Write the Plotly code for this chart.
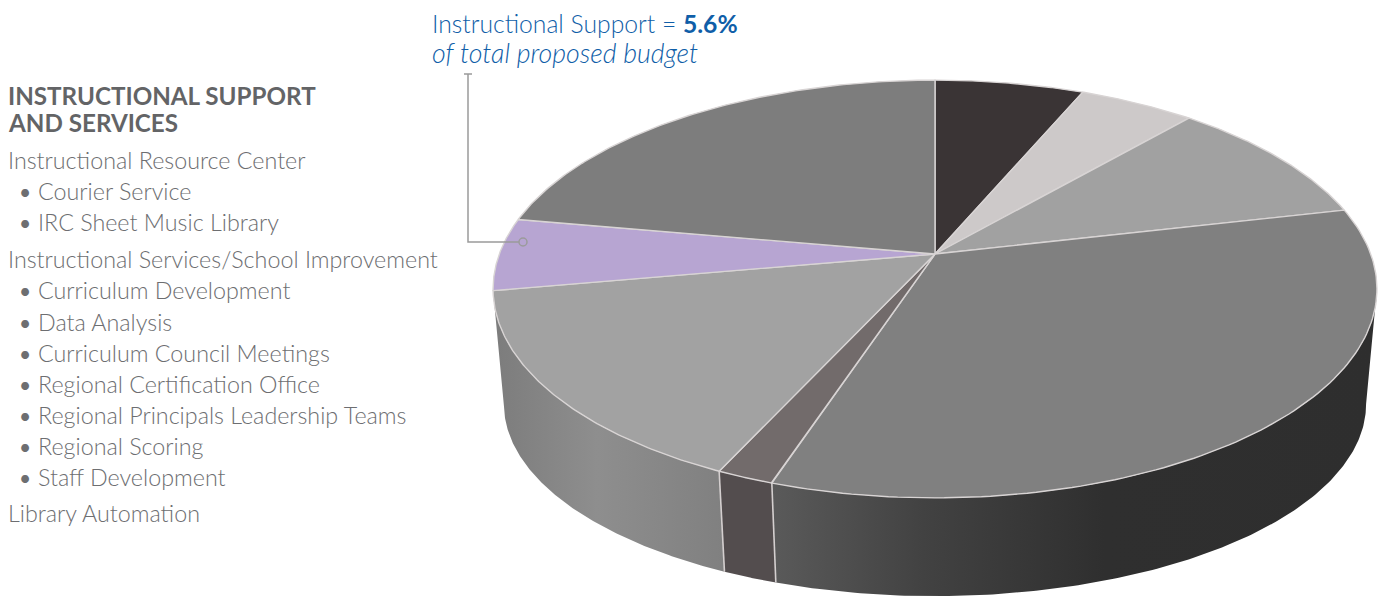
import numpy as np
import plotly.graph_objects as go

# Budget shares in percent, clockwise from twelve o'clock
slice_names = ["Segment A", "Segment B", "Segment C", "Segment D", "Segment E",
               "Segment F", "Instructional Support", "Segment H"]
shares = [6.4, 5.0, 10.0, 33.7, 1.8, 15.3, 5.6, 22.2]
top_colors = ["#3a3435", "#cdc9c9", "#a1a1a1", "#808080", "#726b6b", "#a2a2a2", "#b7a5d2", "#7d7d7d"]
side_stops = {
    3: [[0, "#5a5a5a"], [0.25, "#424242"], [0.55, "#2f2f2f"], [1, "#2e2e2e"]],
    4: [[0, "#534d4e"], [1, "#534d4e"]],
    5: [[0, "#7c7c7c"], [0.45, "#8e8e8e"], [1, "#808080"]],
}

heading_lines = ["INSTRUCTIONAL SUPPORT", "AND SERVICES"]
list_lines = [
    ("Instructional Resource Center", False),
    ("Courier Service", True),
    ("IRC Sheet Music Library", True),
    ("Instructional Services/School Improvement", False),
    ("Curriculum Development", True),
    ("Data Analysis", True),
    ("Curriculum Council Meetings", True),
    ("Regional Certification Office", True),
    ("Regional Principals Leadership Teams", True),
    ("Regional Scoring", True),
    ("Staff Development", True),
    ("Library Automation", False),
]
list_y = [160, 191, 222, 259, 290, 322, 353, 384, 415, 446, 477, 513]

# Perspective model of the disc: the rim is a circle seen through a homography
CX = 935
TILT = 0.1675
TOP = dict(a=435.7, b=203.0, y=254.0)
BOTTOM = dict(a=425.0, b=186.6, y=372.0)
SIDE_FROM, SIDE_TO = 99.6, 260.4


def rim(deg, face):
    t = np.radians(deg)
    u, v = np.sin(t), np.cos(t)
    w = 1 + TILT * v
    return CX + face["a"] * u / w, face["y"] - face["b"] * v / w


edges = np.concatenate([[0], np.cumsum(shares)]) * 360 / sum(shares)
fig = go.Figure()

# Outer wall, drawn first so the top face covers its upper edge
for i in side_stops:
    lo, hi = max(edges[i], SIDE_FROM), min(edges[i + 1], SIDE_TO)
    arc = np.linspace(lo, hi, 160)
    xt, yt = rim(arc, TOP)
    xb, yb = rim(arc[::-1], BOTTOM)
    xs = np.concatenate([xt, xb])
    ys = np.concatenate([yt, yb])
    fig.add_trace(go.Scatter(
        x=xs, y=ys, mode="lines", fill="toself", line=dict(width=0),
        fillgradient=dict(type="horizontal", colorscale=side_stops[i],
                          start=float(xs.min()), stop=float(xs.max())),
        hoverinfo="skip",
    ))

# Vertical seams between wall segments
for deg in edges:
    if SIDE_FROM < deg < SIDE_TO - 1:
        xt, yt = rim(deg, TOP)
        xb, yb = rim(deg, BOTTOM)
        fig.add_trace(go.Scatter(x=[xt, xb], y=[yt, yb], mode="lines",
                                 line=dict(color="#d4cfcf", width=1.6), hoverinfo="skip"))

# Top face wedges
for i, name in enumerate(slice_names):
    arc = np.linspace(edges[i], edges[i + 1], 120)
    xr, yr = rim(arc, TOP)
    fig.add_trace(go.Scatter(
        x=np.concatenate([[CX], xr, [CX]]),
        y=np.concatenate([[TOP["y"]], yr, [TOP["y"]]]),
        mode="lines", fill="toself", fillcolor=top_colors[i],
        line=dict(color="#d8d4d4", width=1.4), name=name,
        hovertemplate=f"{name}: {shares[i]}%<extra></extra>",
    ))

GREY = "#6d6e71"
BLUE = "#0f5ea8"
FONT = "Lato"


def label(x, y, text, size=23.3, color=GREY, weight=300, style="normal"):
    fig.add_annotation(x=x, y=y, xref="x", yref="y", text=text, showarrow=False,
                       xanchor="left", yanchor="middle", align="left",
                       font=dict(family=FONT, size=size, color=color, weight=weight, style=style))


for y, line in zip([95, 122], heading_lines):
    label(6, y, line, size=24.2, color="#636466", weight=700)

for y, (line, bulleted) in zip(list_y, list_lines):
    if bulleted:
        label(17, y, "•", size=21, weight=400)
        label(36, y, line)
    else:
        label(6, y, line)

label(430, 23, f"Instructional Support = <b>{shares[6]}%</b>", size=24.7, color=BLUE)
label(430, 53, "of total proposed budget", size=26.7, color=BLUE, style="italic")

# Leader from the callout down to the purple wedge
LEADER = dict(color="#9b9b9b", width=1.5)
fig.add_shape(type="path", path="M 464 74 L 472 74 M 468 74 L 468 242 L 519 242", line=LEADER)
fig.add_shape(type="circle", x0=519, x1=527, y0=238, y1=246, line=LEADER)

fig.update_layout(
    width=1384, height=597, margin=dict(l=0, r=0, t=0, b=0),
    paper_bgcolor="white", plot_bgcolor="white", showlegend=False,
    xaxis=dict(range=[0, 1384], visible=False),
    yaxis=dict(range=[597, 0], visible=False),
)
fig.write_html("out.html", config=dict(displayModeBar=False))
